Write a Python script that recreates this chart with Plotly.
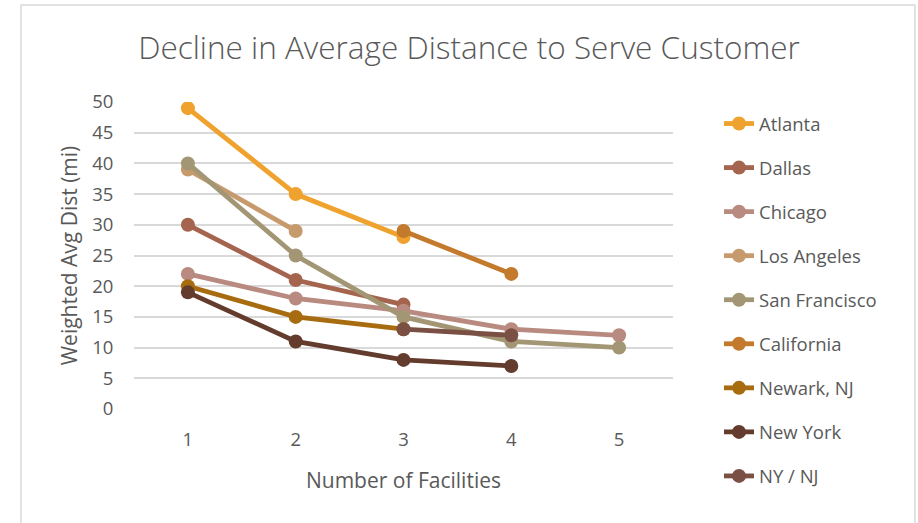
import plotly.graph_objects as go

# Number of facilities (category axis)
facilities = [1, 2, 3, 4, 5]

# Weighted average distance (mi) per scenario; None where a scenario has no value
atlanta = [49, 35, 28, None, None]
dallas = [30, 21, 17, None, None]
chicago = [22, 18, 16, 13, 12]
los_angeles = [39, 29, None, None, None]
san_francisco = [40, 25, 15, 11, 10]
california = [None, None, 29, 22, None]
newark_nj = [20, 15, 13, None, None]
new_york = [19, 11, 8, 7, None]
ny_nj = [None, None, 13, 12, None]

series_names = ["Atlanta", "Dallas", "Chicago", "Los Angeles", "San Francisco",
                "California", "Newark, NJ", "New York", "NY / NJ"]
series_values = [atlanta, dallas, chicago, los_angeles, san_francisco,
                 california, newark_nj, new_york, ny_nj]
series_colors = ["#F0A22E", "#A5644E", "#B98A80", "#C69A6D", "#A29674",
                 "#C47A2C", "#A86C10", "#633C2E", "#7B5044"]

y_ticks = list(range(0, 51, 5))

FONT = "Open Sans"
TEXT = "#595959"

fig = go.Figure()
for name, vals, col in zip(series_names, series_values, series_colors):
    fig.add_trace(go.Scatter(
        x=facilities, y=vals, name=name, legendgroup=name,
        mode="lines+markers",
        line=dict(color=col, width=4.8),
        marker=dict(color=col, size=14),
    ))

# plot area geometry in pixels
W, H = 918, 523
L, R, T, B = 134, 673, 102, 409
pw, ph = R - L, B - T

def px(x):
    return (x - L) / pw

def py(y):
    return (B - y) / ph

fig.update_layout(
    width=W, height=H,
    margin=dict(l=L, r=W - R, t=T, b=H - B),
    paper_bgcolor="white", plot_bgcolor="white",
    font=dict(family=FONT, color=TEXT),
    title=dict(text="Decline in Average Distance to Serve Customer",
               x=px(469), xref="paper", xanchor="center",
               y=1 - 48 / H, yanchor="middle",
               font=dict(family=FONT, size=31.5, color=TEXT, weight=300)),
    showlegend=True,
    legend=dict(x=px(719), xanchor="left", y=py(105), yanchor="top",
                font=dict(family=FONT, size=18.5, color=TEXT),
                tracegroupgap=17, itemwidth=30, maxheight=500,
                bgcolor="rgba(0,0,0,0)"),
    xaxis=dict(range=[0.5, 5.5], tickvals=facilities,
               showgrid=False, zeroline=False, showline=False,
               ticks="outside", ticklen=14, tickcolor="rgba(0,0,0,0)",
               tickfont=dict(family=FONT, size=18.5, color=TEXT),
               title=dict(text="Number of Facilities", standoff=23,
                          font=dict(family=FONT, size=21, color=TEXT))),
    yaxis=dict(range=[0, 50], tickvals=y_ticks,
               showgrid=True, gridcolor="#D9D9D9", gridwidth=1.5,
               zeroline=False, showline=False,
               ticks="outside", ticklen=16, tickcolor="rgba(0,0,0,0)",
               tickfont=dict(family=FONT, size=18.5, color=TEXT),
               title=dict(text="Weighted Avg Dist (mi)", standoff=8,
                          font=dict(family=FONT, size=21, color=TEXT))),
    shapes=[dict(type="rect", xref="paper", yref="paper",
                 x0=px(21), x1=px(915), y0=py(540), y1=py(5),
                 line=dict(color="#D9D9D9", width=1.5),
                 fillcolor="rgba(0,0,0,0)", layer="below")],
)

fig.write_html("out.html")
